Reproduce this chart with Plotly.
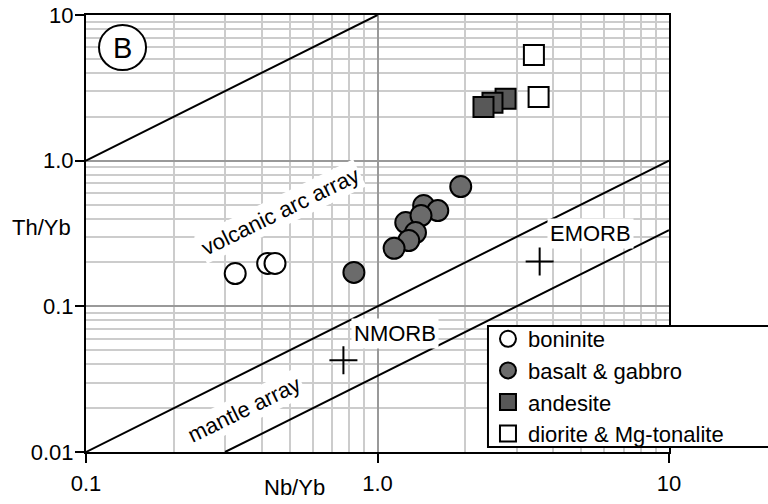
import plotly.graph_objects as go

# ---- data ----
boninite_x = [0.325, 0.42, 0.445]
boninite_y = [0.168, 0.197, 0.197]

basalt_x = [1.93, 1.44, 1.61, 1.25, 1.41, 1.35, 1.28, 1.14, 0.83]
basalt_y = [0.664, 0.492, 0.454, 0.376, 0.420, 0.321, 0.283, 0.250, 0.171]

andesite_x = [2.75, 2.48, 2.31]
andesite_y = [2.66, 2.50, 2.34]

diorite_x = [3.44, 3.57]
diorite_y = [5.32, 2.74]

morb_names = ["NMORB", "EMORB"]
morb_x = [0.764, 3.6]
morb_y = [0.0427, 0.203]

# reference lines Th/Yb = k * Nb/Yb
arc_ratio = 10.0
arc_x = [0.1, 1.0]
mantle_upper_ratio = 0.1
mantle_upper_x = [0.1, 10.0]
mantle_lower_ratio = 1.0 / 30.0
mantle_lower_x = [0.3, 10.0]

x_ticks = [0.1, 1.0, 10.0]
x_ticktext = ["0.1", "1.0", "10"]
y_ticks = [0.01, 0.1, 1.0, 10.0]
y_ticktext = ["0.01", "0.1", "1.0", "10"]

FONT = "Liberation Sans, Arial, Helvetica, sans-serif"
FS = 22

minor_x = [m * d for d in (0.1, 1.0) for m in range(2, 10)]
minor_y = [m * d for d in (0.01, 0.1, 1.0) for m in range(2, 10)]

fig = go.Figure()

line_style = dict(color="black", width=2)
for xs, k in ((arc_x, arc_ratio), (mantle_upper_x, mantle_upper_ratio),
              (mantle_lower_x, mantle_lower_ratio)):
    fig.add_trace(go.Scatter(x=xs, y=[k * v for v in xs], mode="lines",
                             line=line_style, showlegend=False, hoverinfo="skip"))

mk_line = dict(color="black", width=2)
fig.add_trace(go.Scatter(x=boninite_x, y=boninite_y, mode="markers", name="boninite",
                         legendgroup="a",
                         marker=dict(symbol="circle", size=21, color="white", line=mk_line)))
fig.add_trace(go.Scatter(x=basalt_x, y=basalt_y, mode="markers", name="basalt & gabbro",
                         legendgroup="b",
                         marker=dict(symbol="circle", size=21, color="#6b6b6b", line=mk_line)))
fig.add_trace(go.Scatter(x=andesite_x, y=andesite_y, mode="markers", name="andesite",
                         legendgroup="c",
                         marker=dict(symbol="square", size=20, color="#585858", line=mk_line)))
fig.add_trace(go.Scatter(x=diorite_x, y=diorite_y, mode="markers", name="diorite & Mg-tonalite",
                         legendgroup="d",
                         marker=dict(symbol="square", size=20, color="white", line=mk_line)))
fig.add_trace(go.Scatter(x=morb_x, y=morb_y, mode="markers", showlegend=False,
                         text=morb_names,
                         marker=dict(symbol="cross-thin", size=20, color="black",
                                     line=dict(color="black", width=2))))

axis_common = dict(
    type="log", showline=True, linecolor="black", linewidth=2, mirror=True,
    ticks="outside", ticklen=9, tickwidth=2, tickcolor="black",
    showgrid=True, gridcolor="#999999", gridwidth=2, zeroline=False,
    automargin=False,
    tickfont=dict(family=FONT, size=FS, color="black"),
)
fig.update_xaxes(range=[-1, 1], tickvals=x_ticks, ticktext=x_ticktext,
                 minor=dict(tickvals=minor_x, showgrid=True, gridcolor="#cccccc",
                            gridwidth=2, ticks=""),
                 ticklabelstandoff=2, **axis_common)
fig.update_yaxes(range=[-2, 1], tickvals=y_ticks, ticktext=y_ticktext,
                 minor=dict(tickvals=minor_y, showgrid=True, gridcolor="#cccccc",
                            gridwidth=2, ticks=""),
                 ticklabelstandoff=-3, **axis_common)

def ann(text, x, y, angle=0, size=FS, bg="white"):
    fig.add_annotation(text=text, x=x, y=y, xref="paper", yref="paper",
                       xanchor="center", yanchor="middle", showarrow=False,
                       textangle=angle, bgcolor=bg, borderpad=2,
                       font=dict(family=FONT, size=size, color="black"))

ann("volcanic arc array", 0.333, 0.551, angle=-26)
ann("mantle array", 0.271, 0.098, angle=-26)
ann("NMORB", 0.530, 0.272)
ann("EMORB", 0.866, 0.499)
ann("Th/Yb", -0.077, 0.513, bg="rgba(0,0,0,0)")
ann("Nb/Yb", 0.357, -0.082, bg="rgba(0,0,0,0)")

fig.add_shape(type="circle", xref="paper", yref="paper",
              x0=0.0223, x1=0.103, y0=0.874, y1=0.977,
              line=dict(color="black", width=2), fillcolor="white")
ann("B", 0.0626, 0.925, size=29, bg="rgba(0,0,0,0)")

# legend frame (extends past the right edge of the figure as in the reference)
fig.add_shape(type="rect", xref="paper", yref="paper",
              x0=0.6895, x1=1.2, y0=0.0114, y1=0.2883,
              line=dict(color="black", width=2), fillcolor="white", layer="above")

fig.update_layout(
    width=768, height=504,
    margin=dict(l=86, r=99, t=15, b=52, autoexpand=False),
    paper_bgcolor="white", plot_bgcolor="white",
    font=dict(family=FONT, size=FS, color="black"),
    showlegend=True,
    legend=dict(x=0.6895, y=0.3066, xanchor="left", yanchor="top",
                bgcolor="rgba(0,0,0,0)", borderwidth=0,
                font=dict(family=FONT, size=FS, color="black"),
                tracegroupgap=0, itemsizing="trace"),
)

fig.write_html("out.html")
